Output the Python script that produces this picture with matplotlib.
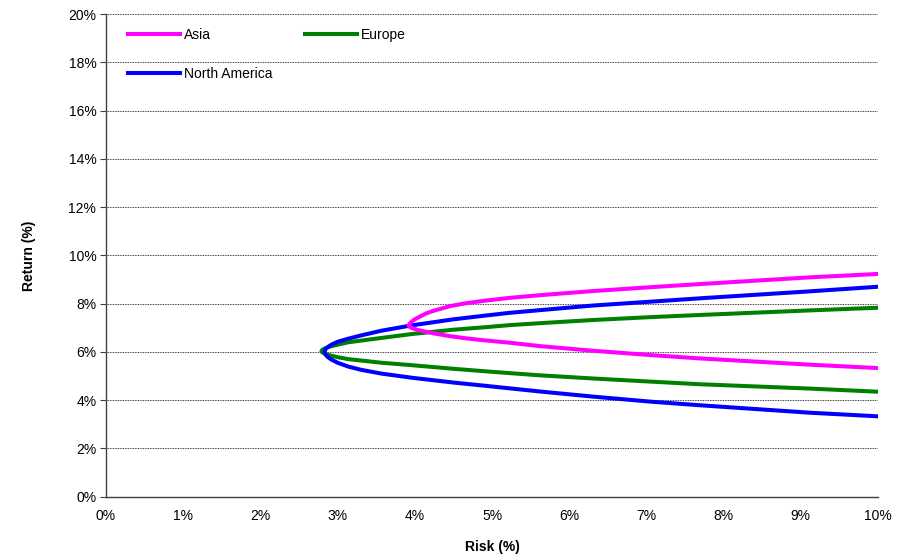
import matplotlib.pyplot as plt
from matplotlib.ticker import MultipleLocator, PercentFormatter

plt.rcParams['font.family'] = ['Liberation Sans', 'DejaVu Sans']

# values, in %; each path runs from the lower branch
# at 10% risk round the tip and back out along the upper branch
asia_risk = [10.0, 9.12, 7.69, 7.05, 6.3, 5.62, 5.23, 4.9, 4.67, 4.46, 4.24, 4.05, 3.98, 3.94, 3.92,
             3.93, 3.96, 4.0, 4.07, 4.15, 4.24, 4.46, 4.67, 4.9, 5.23, 5.62, 6.3, 7.05, 7.69, 9.12, 10.0]
asia_return = [5.33, 5.47, 5.73, 5.87, 6.05, 6.24, 6.38, 6.48, 6.56, 6.65, 6.77, 6.9, 6.97, 7.02, 7.08,
               7.16, 7.26, 7.35, 7.47, 7.6, 7.7, 7.9, 8.02, 8.12, 8.24, 8.35, 8.52, 8.68, 8.81, 9.09, 9.23]

europe_risk = [10.0, 9.12, 7.69, 7.05, 6.3, 5.62, 5.23, 4.9, 4.5, 3.96, 3.57, 3.14, 3.0, 2.9, 2.83, 2.8, 2.79,
               2.8, 2.83, 2.9, 3.0, 3.14, 3.57, 3.96, 4.5, 4.9, 5.23, 5.62, 6.3, 7.05, 7.69, 9.12, 10.0]
europe_return = [4.35, 4.48, 4.66, 4.77, 4.9, 5.03, 5.12, 5.2, 5.3, 5.45, 5.55, 5.7, 5.78, 5.86, 5.94, 5.98, 6.03,
                 6.08, 6.14, 6.22, 6.3, 6.4, 6.58, 6.74, 6.92, 7.02, 7.11, 7.19, 7.32, 7.44, 7.53, 7.72, 7.83]

namerica_risk = [10.0, 9.12, 7.69, 7.05, 6.3, 5.62, 5.23, 4.9, 4.5, 3.96, 3.57, 3.3, 3.14, 3.0, 2.92, 2.87,
                 2.84, 2.83,
                 2.84, 2.87, 2.92, 3.0, 3.14, 3.3, 3.57, 3.96, 4.5, 4.9, 5.23, 5.62, 6.3, 7.05, 7.69,
                 9.12, 10.0]
namerica_return = [3.33, 3.48, 3.79, 3.94, 4.15, 4.36, 4.49, 4.6, 4.73, 4.93, 5.1, 5.26, 5.39, 5.55, 5.68,
                   5.79, 5.9, 6.0,
                   6.1, 6.2, 6.3, 6.42, 6.55, 6.68, 6.88, 7.1, 7.35, 7.5, 7.62, 7.73, 7.92, 8.08, 8.22,
                   8.51, 8.70]

fig = plt.figure(figsize=(9.04, 5.6), dpi=100)
ax = fig.add_axes([0.1173, 0.113, 0.854, 0.862])

la, = ax.plot(asia_risk, asia_return, color='#FF00FF', lw=2.9, label='Asia', zorder=5)
le, = ax.plot(europe_risk, europe_return, color='#008000', lw=2.9, label='Europe', zorder=3)
ln, = ax.plot(namerica_risk, namerica_return, color='#0000FF', lw=2.9, label='North America',
              zorder=4)

ax.set_xlim(0, 10)
ax.set_ylim(0, 20)
ax.xaxis.set_major_locator(MultipleLocator(1))
ax.yaxis.set_major_locator(MultipleLocator(2))
ax.xaxis.set_major_formatter(PercentFormatter(decimals=0))
ax.yaxis.set_major_formatter(PercentFormatter(decimals=0))
ax.tick_params(axis='y', length=4, width=0.8, color='#404040', labelsize=10, pad=3)
ax.tick_params(axis='x', length=0, labelsize=10, pad=9)

ax.grid(axis='y', color='black', linestyle=(0, (1, 1)), linewidth=0.6)
ax.set_axisbelow(True)
for s in ['top', 'right']:
    ax.spines[s].set_visible(False)
for s in ['left', 'bottom']:
    ax.spines[s].set_color('#404040')
    ax.spines[s].set_linewidth(1.0)

ax.set_xlabel('Risk (%)', fontsize=10, fontweight='bold', labelpad=12)
ax.set_ylabel('Return (%)', fontsize=10, fontweight='bold', labelpad=23)

# column-major fill: Asia / North America in the first column, Europe in the second
ax.legend(handles=[la, ln, le], ncol=2, frameon=False, loc='upper left',
          bbox_to_anchor=(0.0285, 0.971), borderaxespad=0, borderpad=0, fontsize=10,
          handlelength=3.75, handletextpad=0.3, columnspacing=2.3, labelspacing=1.78)

fig.savefig('out.png', dpi=100)
